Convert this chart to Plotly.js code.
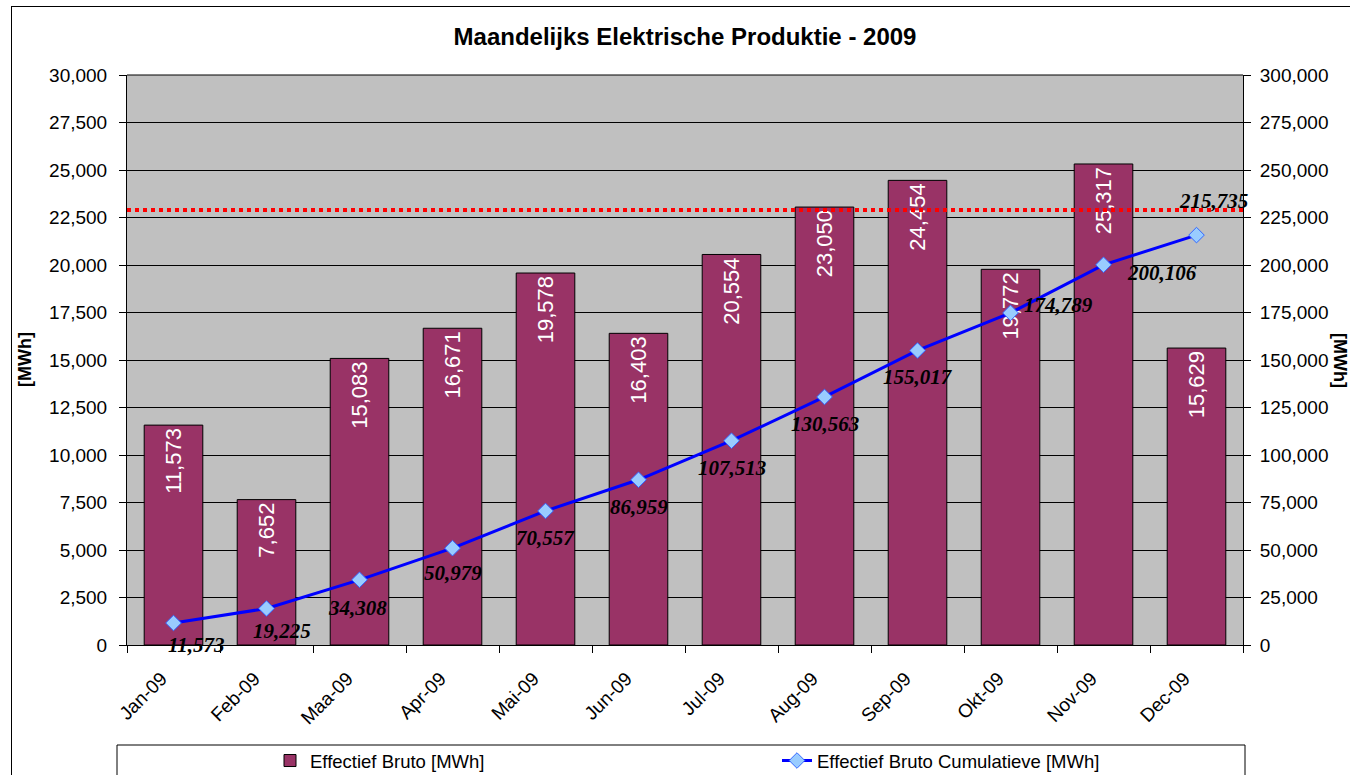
<!DOCTYPE html>
<html>
<head>
<meta charset="utf-8">
<script src="https://cdn.plot.ly/plotly-3.0.1.min.js"></script>
<style>
  html, body { margin: 0; padding: 0; background: #fff; overflow: hidden; }
  #wrap { position: relative; width: 1350px; height: 775px; overflow: hidden; }
  #chart { position: absolute; left: 0; top: 0; width: 1350px; height: 775px; }
  #frame { position: absolute; left: 11px; top: 6px; width: 1360px; height: 800px;
           border: 1px solid #000; box-sizing: border-box; pointer-events: none; }
</style>
</head>
<body>
<div id="wrap">
  <div id="chart"></div>
  <div id="frame"></div>
</div>
<script>
// ---- data ----
const months = ['Jan-09','Feb-09','Maa-09','Apr-09','Mai-09','Jun-09','Jul-09','Aug-09','Sep-09','Okt-09','Nov-09','Dec-09'];
const monthly = [11573, 7652, 15083, 16671, 19578, 16403, 20554, 23050, 24454, 19772, 25317, 15629];
const cumulative = [11573, 19225, 34308, 50979, 70557, 86959, 107513, 130563, 155017, 174789, 200106, 215735];
const targetLevel = 22900;
const seriesNames = ['Effectief Bruto [MWh]', 'Effectief Bruto Cumulatieve [MWh]'];
const titleText = 'Maandelijks Elektrische Produktie - 2009';
const axisTitle = '[MWh]';

// ---- label placement (pixel offsets, layout only) ----
const labelDx = [23, 15, -2, 0, 0, 0, 0, 0, 0, 48, 58, 17];
const labelDy = [-22, -23, -28, -25, -27, -27, -27, -27, -27, 8, -8, 34];

const fmt = v => v.toLocaleString('en-US');
const sans = 'Liberation Sans, Arial, sans-serif';

const bars = {
  type: 'bar',
  name: seriesNames[0],
  x: months,
  y: monthly,
  yaxis: 'y',
  marker: { color: '#993366', line: { color: '#000', width: 1 } },
  text: monthly.map(fmt),
  textposition: 'inside',
  insidetextanchor: 'end',
  textangle: -90,
  constraintext: 'none',
  textfont: { family: sans, size: 22, color: '#fff' },
  hoverinfo: 'skip'
};

const line = {
  type: 'scatter',
  mode: 'lines+markers',
  name: seriesNames[1],
  x: months,
  y: cumulative,
  yaxis: 'y2',
  line: { color: '#0000FF', width: 3 },
  marker: { symbol: 'diamond', size: 12, color: '#99CCFF', line: { color: '#3366FF', width: 1 } },
  hoverinfo: 'skip'
};

const annotations = cumulative.map((v, i) => ({
  x: months[i], y: v, xref: 'x', yref: 'y2',
  text: '<b><i>' + fmt(v) + '</i></b>',
  showarrow: false, xanchor: 'center', yanchor: 'middle',
  xshift: labelDx[i], yshift: labelDy[i],
  font: { family: 'Liberation Serif, Times New Roman, serif', size: 21, color: '#000' }
}));
annotations.push({
  x: 0, y: 0.5, xref: 'paper', yref: 'paper', xshift: -102,
  text: '<b>' + axisTitle + '</b>', textangle: -90, showarrow: false,
  xanchor: 'center', yanchor: 'middle',
  font: { family: sans, size: 18, color: '#000' }
});
annotations.push({
  x: 1, y: 0.5, xref: 'paper', yref: 'paper', xshift: 97,
  text: '<b>' + axisTitle + '</b>', textangle: 90, showarrow: false,
  xanchor: 'center', yanchor: 'middle',
  font: { family: sans, size: 18, color: '#000' }
});

const tickFont = { family: sans, size: 19, color: '#000' };

const layout = {
  width: 1350, height: 775,
  margin: { l: 127, r: 107, t: 75, b: 130, pad: 0, autoexpand: false },
  paper_bgcolor: '#fff',
  plot_bgcolor: '#C0C0C0',
  title: {
    text: titleText,
    font: { family: sans, size: 24, color: '#000', weight: 'bold' },
    x: 0.5, xanchor: 'center', y: 1 - 37 / 775, yanchor: 'middle', xref: 'paper',
    automargin: false
  },
  bargap: 0.37,
  showlegend: true,
  legend: {
    orientation: 'h',
    x: (270 - 127) / 1116, xanchor: 'left',
    y: (645 - 761) / 570, yanchor: 'middle',
    bgcolor: 'rgba(0,0,0,0)', borderwidth: 0,
    entrywidth: 462,
    font: { family: sans, size: 18.5, color: '#000' },
    traceorder: 'normal'
  },
  xaxis: {
    type: 'category', automargin: false,
    range: [-0.5, months.length - 0.5],
    showline: true, linecolor: '#000', linewidth: 1,
    ticks: 'outside', tickson: 'boundaries', ticklen: 7, tickcolor: '#000',
    tickangle: -45, tickfont: tickFont,
    ticklabelstandoff: 14, ticklabelshift: -12,
    showgrid: false, zeroline: false, fixedrange: true
  },
  yaxis: {
    range: [0, 30000], dtick: 2500, tickformat: ',', automargin: false,
    showline: true, linecolor: '#000', linewidth: 1,
    ticks: 'outside', ticklen: 7, tickcolor: '#000', ticklabelstandoff: 8,
    showgrid: true, gridcolor: '#000', gridwidth: 1,
    zeroline: false, tickfont: tickFont, fixedrange: true
  },
  yaxis2: {
    range: [0, 300000], dtick: 25000, tickformat: ',', automargin: false,
    overlaying: 'y', side: 'right',
    showline: true, linecolor: '#000', linewidth: 1,
    ticks: 'outside', ticklen: 7, tickcolor: '#000', ticklabelstandoff: 5,
    showgrid: false, zeroline: false, tickfont: tickFont, fixedrange: true
  },
  shapes: [
    {
      type: 'line', xref: 'paper', yref: 'y', x0: 0, x1: 1, y0: targetLevel, y1: targetLevel,
      line: { color: '#FF0000', width: 4, dash: 'dot' }, layer: 'above'
    },
    {
      type: 'line', xref: 'paper', yref: 'paper', x0: 0, x1: 1, y0: 1, y1: 1,
      line: { color: '#000', width: 1 }, layer: 'above'
    },
    {
      type: 'rect', xref: 'paper', yref: 'paper',
      x0: (117 - 127) / 1116, x1: (1245 - 127) / 1116,
      y0: (645 - 745) / 570, y1: (645 - 800) / 570,
      line: { color: '#000', width: 1 }, fillcolor: 'rgba(0,0,0,0)', layer: 'above'
    }
  ],
  annotations: annotations,
  hovermode: false
};

Plotly.newPlot('chart', [bars, line], layout, { displayModeBar: false, staticPlot: true });
</script>
</body>
</html>
